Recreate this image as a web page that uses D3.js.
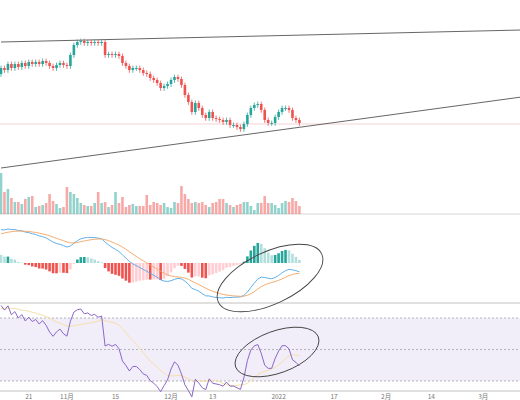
<!DOCTYPE html>
<html><head><meta charset="utf-8">
<script src="https://cdn.jsdelivr.net/npm/d3@7"></script>
<style>body{margin:0;background:#fff}svg{display:block}</style></head>
<body><svg id="c" width="520" height="400"></svg>
<script>
const startDate = "2021-10-13";
const preCloses = [47000,47500,46500,47000,48000,47500,48000,48500,48000,49000,50000,49500,51000,52000,51500,53000,54000,53000,55000,56000,55500,57000,58000,57000,58500,59500,59000,60500,61000,60500];
const closes = [62000,61500,63000,62000,63000,62250,63250,62500,63500,63000,63500,63000,63750,63250,62500,62000,62750,63250,62750,62500,65250,67750,68500,68750,68250,68500,68250,68500,68250,68500,65250,65500,65250,65500,65000,63250,62500,61500,62000,62000,61500,60750,60500,59500,59000,58250,57000,57500,58000,59000,59750,59250,57750,55250,53500,51000,53250,52000,50250,49500,51000,49500,49250,49000,48500,49000,47750,47750,47250,46750,48000,50250,52000,52750,53000,51500,49000,48250,48250,49750,51000,52000,52000,51500,49500,49000,48250];
const volumes = [41,22,25,16,12,12,10,15,17,18,7,8,9,11,20,13,10,6,7,27,22,20,16,11,9,8,8,11,22,11,12,7,9,22,11,17,7,9,10,8,8,8,19,9,12,11,9,11,7,6,12,11,28,20,15,11,12,11,12,9,7,11,12,15,15,11,9,7,9,10,12,12,8,4,11,11,18,11,11,9,6,11,13,12,16,13,8].map(v=>v*1000);
const tickDates = ["2021-10-21","2021-11-01","2021-11-15","2021-12-01","2021-12-13","2022-01-01","2022-01-17","2022-02-01","2022-02-14","2022-03-01"];
const tickLabels = ["21","11月","15","12月","13","2022","17","2月","14","3月"];
const upperLine = [["2021-10-13",68500],["2022-03-12",71500]];
const lowerLine = [["2021-10-13",37000],["2022-03-12",54750]];
const hLinePrice = 48000;

const svg = d3.select("#c");
const parse = d3.utcParse("%Y-%m-%d");
const d0 = parse(startDate);
const day = i => d3.utcDay.offset(d0, i);
const x = d3.scaleUtc().domain([d0, d3.utcDay.offset(d0,100)]).range([1, 1+3.47*100]);
const y = d3.scaleLinear().domain([25500,79000]).range([214,0]);
const vy = d3.scaleLinear().domain([0,50000]).range([214,164]);
const up="#26a69a", dn="#ef5350";

[214,303,391].forEach(v=>svg.append("line").attr("x1",0).attr("x2",520).attr("y1",v).attr("y2",v).attr("stroke","#d6d6d6").attr("stroke-width",v===214?1:1.5));

closes.forEach((c,i)=>{
  const o = i? closes[i-1] : preCloses[preCloses.length-1];
  svg.append("rect").attr("x",x(day(i))-1.3).attr("width",2.6)
    .attr("y",vy(volumes[i])).attr("height",vy(0)-vy(volumes[i]))
    .attr("fill",c>=o?up:dn).attr("opacity",0.5);
});
svg.append("line").attr("x1",0).attr("x2",520).attr("y1",y(hLinePrice)).attr("y2",y(hLinePrice)).attr("stroke","#f3c6cb").attr("stroke-width",0.8);
[upperLine,lowerLine].forEach(l=>svg.append("line")
  .attr("x1",x(parse(l[0][0]))).attr("y1",y(l[0][1])).attr("x2",x(parse(l[1][0]))).attr("y2",y(l[1][1]))
  .attr("stroke","#555").attr("stroke-width",0.9));
closes.forEach((c,i)=>{
  const o = i? closes[i-1] : preCloses[preCloses.length-1];
  const col = c>=o?up:dn, cx=x(day(i));
  svg.append("line").attr("x1",cx).attr("x2",cx).attr("y1",y(Math.max(o,c)+600)).attr("y2",y(Math.min(o,c)-700)).attr("stroke",col).attr("stroke-width",0.8);
  const top=y(Math.max(o,c)), bot=y(Math.min(o,c));
  svg.append("rect").attr("x",cx-1.3).attr("width",2.6).attr("y",top).attr("height",Math.max(1,bot-top)).attr("fill",col);
});

const all = preCloses.concat(closes);
const ema=(arr,n)=>{const k=2/(n+1);let e=arr[0];return arr.map(v=>e=v*k+e*(1-k));};
const e12=ema(all,12), e26=ema(all,26);
const macdAll=e12.map((v,i)=>v-e26[i]);
const sigAll=ema(macdAll,9);
const P=preCloses.length;
const macd=macdAll.slice(P), sig=sigAll.slice(P), hist=macd.map((v,i)=>v-sig[i]);
const histPrev=macdAll[P-1]-sigAll[P-1];
const mext=d3.extent(macd.concat(sig));
const my=d3.scaleLinear().domain(mext).range([298,229]);
hist.forEach((h,i)=>{
  const p=i?hist[i-1]:histPrev;
  const col = h>=0 ? (h>=p?up:"#b2dfdb") : (h<=p?dn:"#ffcdd2");
  svg.append("rect").attr("x",x(day(i))-1.3).attr("width",2.6)
    .attr("y",Math.min(my(0),my(h*2))).attr("height",Math.abs(my(h*2)-my(0))).attr("fill",col);
});
const ml=d3.line().x((d,i)=>x(day(i))).y(d=>my(d));
svg.append("path").attr("d",ml(macd)).attr("fill","none").attr("stroke","#4fa8e8").attr("stroke-width",0.9);
svg.append("path").attr("d",ml(sig)).attr("fill","none").attr("stroke","#f4a460").attr("stroke-width",0.9);
svg.append("ellipse").attr("cx",270).attr("cy",278).attr("rx",57).attr("ry",26).attr("transform","rotate(-25 270 278)").attr("fill","none").attr("stroke","#444").attr("stroke-width",0.9);

const ry=d3.scaleLinear().domain([30,70]).range([381,318]);
svg.append("rect").attr("x",0).attr("width",520).attr("y",ry(70)).attr("height",ry(30)-ry(70)).attr("fill","rgba(126,87,194,0.1)");
[70,50,30].forEach(v=>svg.append("line").attr("x1",0).attr("x2",520).attr("y1",ry(v)).attr("y2",ry(v)).attr("stroke","#999").attr("stroke-dasharray","2,2").attr("stroke-width",0.7));
let ag=0,al=0;const rsiAll=[];
for(let i=1;i<all.length;i++){const d=all[i]-all[i-1];const g=Math.max(d,0),l=Math.max(-d,0);
  if(i<=14){ag+=g/14;al+=l/14;}else{ag=(ag*13+g)/14;al=(al*13+l)/14;}
  rsiAll.push(al===0?100:100-100/(1+ag/al));}
const rsi=rsiAll.slice(P-1);
const rsiMaAll=rsiAll.map((v,i)=>d3.mean(rsiAll.slice(Math.max(0,i-13),i+1)));
const rsiMa=rsiMaAll.slice(P-1);
const rl=d3.line().x((d,i)=>x(day(i))).y(d=>ry(d));
svg.append("path").attr("d",rl(rsiMa)).attr("fill","none").attr("stroke","#f5dfa8").attr("stroke-width",1);
svg.append("path").attr("d",rl(rsi)).attr("fill","none").attr("stroke","#7e57c2").attr("stroke-width",0.9);
svg.append("ellipse").attr("cx",277).attr("cy",352).attr("rx",44).attr("ry",21).attr("transform","rotate(-20 277 352)").attr("fill","none").attr("stroke","#444").attr("stroke-width",0.9);

tickDates.forEach((d,i)=>svg.append("text").attr("x",x(parse(d))).attr("y",399).attr("text-anchor","middle")
  .attr("font-family","Noto Sans CJK SC, sans-serif").attr("font-size",6.5).attr("fill","#777").text(tickLabels[i]));
</script></body></html>
